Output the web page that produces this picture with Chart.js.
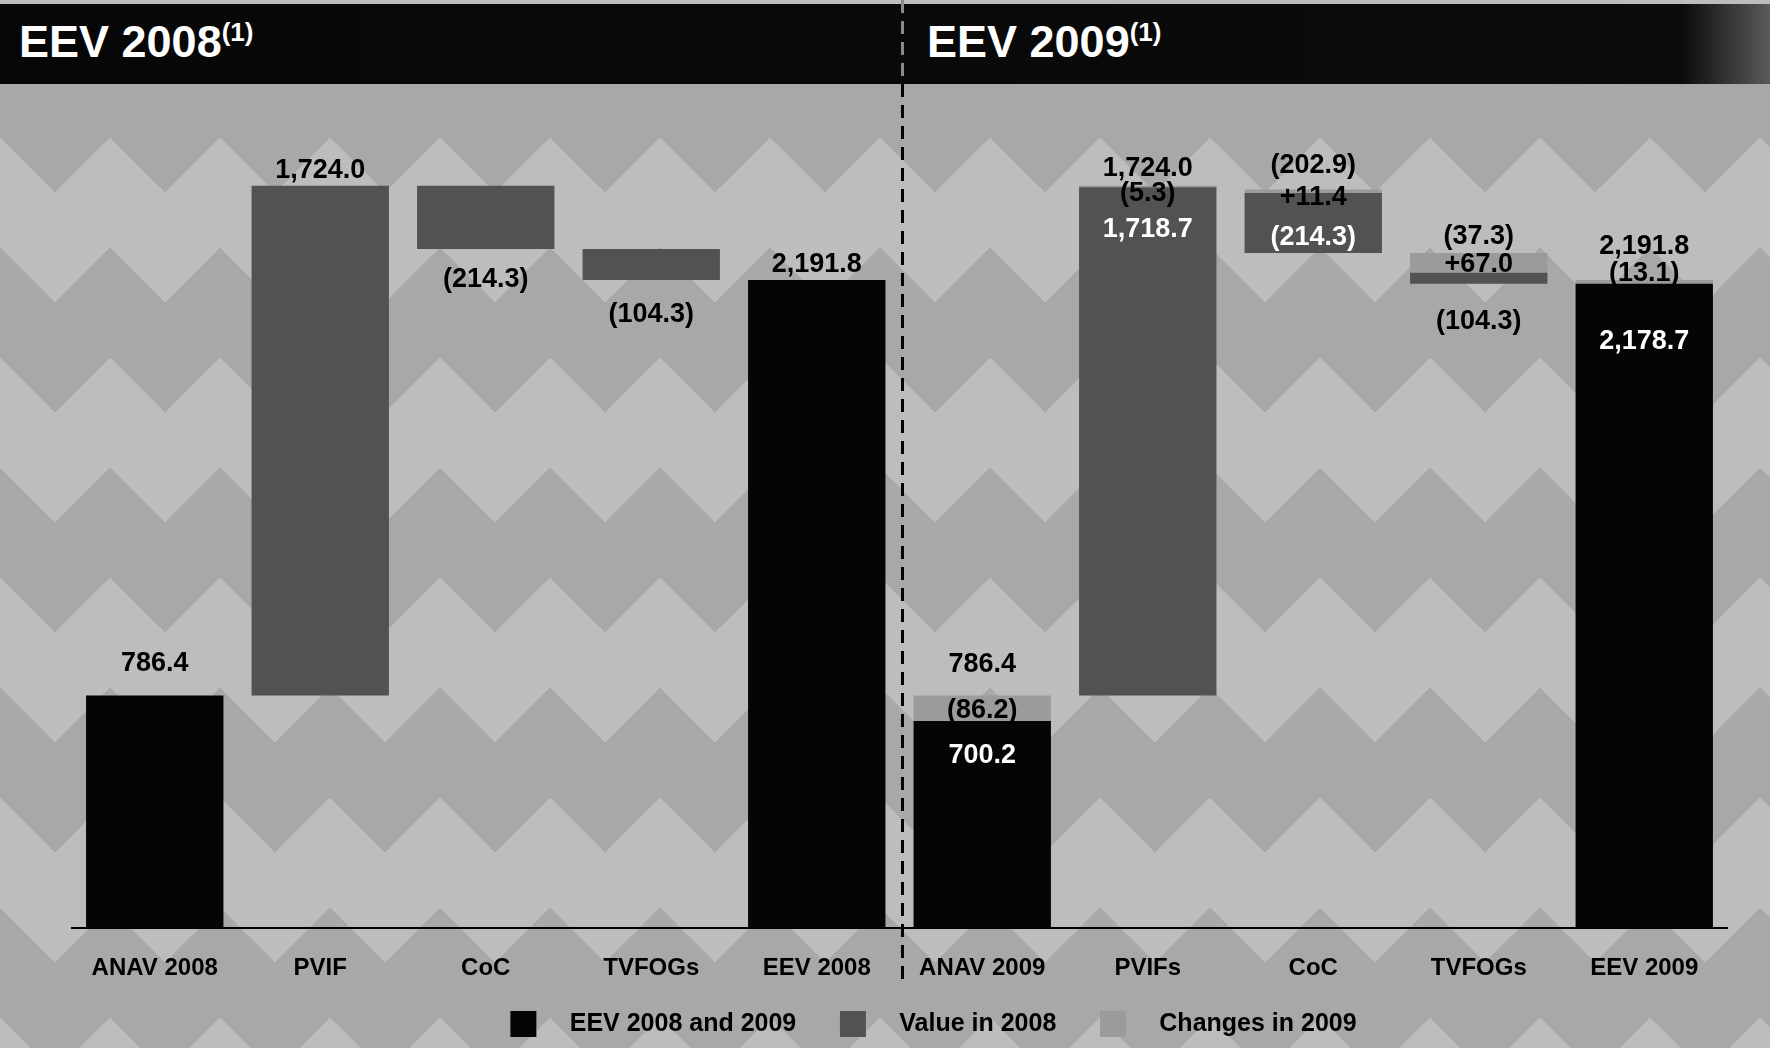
<html>
    <head>
		<meta http-equiv="content-type" content="text/html; charset=UTF-8" />
		<script src="https://cdn.jsdelivr.net/npm/chart.js@4.4.0/dist/chart.umd.min.js"></script>
		<style>
			body {
			  margin: 0;
			  width: 1770px;
			  height: 1048px;
			  overflow: hidden;
			  font-family: "Liberation Sans", Arial, sans-serif;
			  /* grey zig-zag paper behind the chart */
			  background-color: #a8a8a8;
			  background-image:
			    linear-gradient(135deg, #bdbdbd 25%, transparent 25%),
			    linear-gradient(225deg, #bdbdbd 25%, transparent 25%),
			    linear-gradient(315deg, #bdbdbd 25%, transparent 25%),
			    linear-gradient(45deg, #bdbdbd 25%, transparent 25%);
			  background-position: -55px 0, -55px 0, 0 0, 0 0;
			  background-size: 110px 220px;
			}
			#header {
			  position: absolute; left: 0; top: 4px; width: 1770px; height: 80px;
			  background: linear-gradient(90deg, #070707 0%, #0b0b0b 95%, #5a5a5a 100%);
			}
			#header span {
			  position: absolute; top: 12px;
			  color: #fff; font-weight: bold; font-size: 45px;
			}
			#header sup { font-size: 26px; vertical-align: 16px; }
			#wrap { position: absolute; left: 0; top: 0; }
		</style>
	</head>
    <body>
		<div id="header">
			<span style="left:19px">EEV 2008<sup>(1)</sup></span>
			<span style="left:927px">EEV 2009<sup>(1)</sup></span>
		</div>
		<div id="wrap"><canvas id="bridge" width="1770" height="1048"></canvas></div>
		<script>
			var categories = ['ANAV 2008', 'PVIF', 'CoC', 'TVFOGs', 'EEV 2008',
			                  'ANAV 2009', 'PVIFs', 'CoC', 'TVFOGs', 'EEV 2009'];
			var legendNames = ['EEV 2008 and 2009', 'Value in 2008', 'Changes in 2009'];

			// ANAV, PVIF, CoC, TVFOGs
			var steps2008 = [786.4, 1724.0, -214.3, -104.3];
			var eev2008 = 2191.8;
			var steps2009 = [700.2, 1718.7, -202.9, -37.3];
			var changes2009 = [-86.2, -5.3, 11.4, 67.0];
			var eev2009 = 2178.7;
			var eevChange2009 = -13.1;

			var BLACK = '#050505', DARK = '#525252', LIGHT = '#9b9b9b';

			function fmt(v) {
				var s = Math.abs(v).toLocaleString('en-US', {minimumFractionDigits: 1, maximumFractionDigits: 1});
				return v < 0 ? '(' + s + ')' : s;
			}
			function fmtChange(v) { return v > 0 ? '+' + fmt(v) : fmt(v); }

			var blackBars = [], darkBars = [], lightBars = [];
			for (var i = 0; i < 10; i++) { blackBars.push(null); darkBars.push(null); lightBars.push(null); }

			// 2008 walk
			var run = 0, top2008 = [], bottom2008 = [];
			for (var i = 0; i < steps2008.length; i++) {
				var lo = Math.min(run, run + steps2008[i]), hi = Math.max(run, run + steps2008[i]);
				if (i == 0) blackBars[i] = [lo, hi]; else darkBars[i] = [lo, hi];
				bottom2008.push(lo); top2008.push(hi);
				run += steps2008[i];
			}
			blackBars[4] = [0, eev2008];

			// 2009: each bar = 2009 value with the change stacked on top
			var base2009 = [];
			base2009[0] = 0;
			base2009[1] = Math.abs(steps2009[0]) + Math.abs(changes2009[0]);
			base2009[3] = eev2009;
			base2009[2] = eev2009 + Math.abs(steps2009[3]) + Math.abs(changes2009[3]);
			var mid2009 = [], top2009 = [];
			for (var i = 0; i < 4; i++) {
				var b = base2009[i];
				var m = b + Math.abs(steps2009[i]);
				var t = m + Math.abs(changes2009[i]);
				if (i == 0) blackBars[5 + i] = [b, m]; else darkBars[5 + i] = [b, m];
				lightBars[5 + i] = [m, t];
				mid2009.push(m); top2009.push(t);
			}
			blackBars[9] = [0, eev2009];
			lightBars[9] = [eev2009, eev2009 + Math.abs(eevChange2009)];
			var eevTop2009 = eev2009 + Math.abs(eevChange2009);

			// text drawn over the bars: [category, text, colour, anchor value, pixel offset]
			var W = '#ffffff', K = '#000000';
			var barLabels = [
				[0, fmt(steps2008[0]), K, top2008[0], -32],
				[1, fmt(steps2008[1]), K, top2008[1], -15],
				[2, fmt(steps2008[2]), K, bottom2008[2], 31],
				[3, fmt(steps2008[3]), K, bottom2008[3], 35],
				[4, fmt(eev2008), K, eev2008, -15],

				[5, fmt(steps2008[0]), K, top2009[0], -31],
				[5, fmtChange(changes2009[0]), K, (mid2009[0] + top2009[0]) / 2, 2],
				[5, fmt(steps2009[0]), W, mid2009[0], 34],

				[6, fmt(steps2008[1]), K, top2009[1], -17],
				[6, fmtChange(changes2009[1]), K, top2009[1], 8],
				[6, fmt(steps2009[1]), W, mid2009[1], 42],

				[7, fmt(steps2009[2]), K, top2009[2], -24],
				[7, fmtChange(changes2009[2]), K, top2009[2], 8],
				[7, fmt(steps2008[2]), W, mid2009[2], 45],

				[8, fmt(steps2009[3]), K, top2009[3], -16],
				[8, fmtChange(changes2009[3]), K, (mid2009[3] + top2009[3]) / 2, 2],
				[8, fmt(steps2008[3]), K, base2009[3], 38],

				[9, fmt(eev2008), K, eevTop2009, -33],
				[9, fmtChange(eevChange2009), K, eevTop2009, -6],
				[9, fmt(eev2009), W, eev2009, 58]
			];

			var labelPlugin = {
				id: 'barText',
				afterLayout: function(chart) {
					// legend sits a bit right of the plot centre
					chart.legend.left += 34;
					chart.legend.right += 34;
				},
				afterDatasetsDraw: function(chart) {
					var ctx = chart.ctx, xs = chart.scales.x, ys = chart.scales.y;
					ctx.save();
					// dashed divider between the two years
					var xd = (xs.getPixelForValue(4) + xs.getPixelForValue(5)) / 2 + 3;
					ctx.lineWidth = 3;
					ctx.setLineDash([13, 8]);
					ctx.strokeStyle = '#8a8a8a';
					ctx.beginPath(); ctx.moveTo(xd, 0); ctx.lineTo(xd, 84); ctx.stroke();
					ctx.strokeStyle = '#000';
					ctx.beginPath(); ctx.moveTo(xd, 84); ctx.lineTo(xd, 982); ctx.stroke();
					ctx.setLineDash([]);

					ctx.font = 'bold 27px "Liberation Sans", Arial, sans-serif';
					ctx.textAlign = 'center';
					ctx.textBaseline = 'middle';
					barLabels.forEach(function(l) {
						ctx.fillStyle = l[2];
						ctx.fillText(l[1], xs.getPixelForValue(l[0]), ys.getPixelForValue(l[3]) + l[4]);
					});
					ctx.restore();
				}
			};

			var barStyle = {grouped: false, barPercentage: 0.83, categoryPercentage: 1.0, borderWidth: 0};
			var ctx = document.getElementById('bridge');
			var chart = new Chart(ctx, {
				type: 'bar',
				data: {
					labels: categories,
					datasets: [
						Object.assign({label: legendNames[0], data: blackBars, backgroundColor: BLACK}, barStyle),
						Object.assign({label: legendNames[1], data: darkBars, backgroundColor: DARK}, barStyle),
						Object.assign({label: legendNames[2], data: lightBars, backgroundColor: LIGHT}, barStyle)
					]
				},
				options: {
					responsive: false,
					animation: false,
					devicePixelRatio: 1,
					layout: {padding: {left: 72, right: 43, top: 100, bottom: 1}},
					plugins: {
						legend: {
							position: 'bottom',
							labels: {
								color: '#000',
								boxWidth: 26, boxHeight: 26,
								padding: 2,
								font: {family: '"Liberation Sans", Arial, sans-serif', size: 25, weight: 'bold'},
								// spaces give the room between swatch and text and between entries
								generateLabels: function(chart) {
									var items = Chart.defaults.plugins.legend.labels.generateLabels(chart);
									items.forEach(function(it, i) {
										it.text = '   ' + it.text + (i < items.length - 1 ? '      ' : '');
									});
									return items;
								}
							}
						},
						tooltip: {enabled: false}
					},
					scales: {
						x: {
							grid: {display: false, drawTicks: false},
							border: {display: true, color: '#000', width: 2},
							ticks: {
								color: '#000', padding: 26,
								font: {family: '"Liberation Sans", Arial, sans-serif', size: 24, weight: 'bold'}
							}
						},
						y: {display: false, min: 0, max: 2800}
					}
				},
				plugins: [labelPlugin]
			});
		</script>
    </body>
</html>
